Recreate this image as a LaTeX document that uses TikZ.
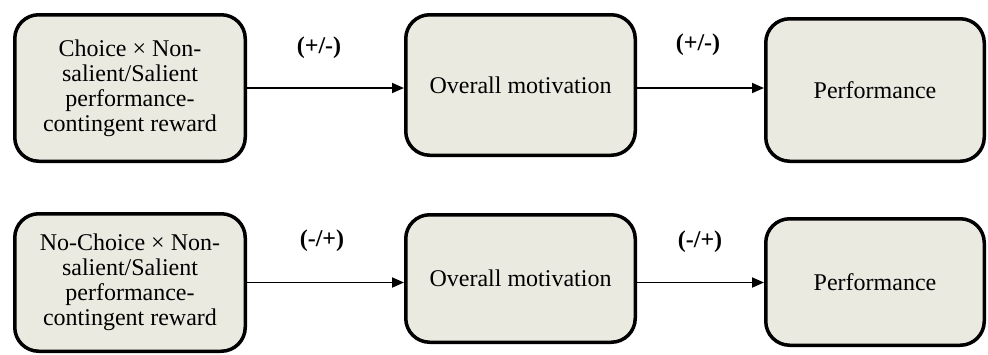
\documentclass[tikz,border=0pt]{standalone}
\usepackage{fontspec}
\setmainfont{Liberation Serif}
\usepackage{tikz}
\usetikzlibrary{arrows.meta}
\definecolor{boxfill}{RGB}{235,234,224}
\tikzstyle{box} = [draw, line width=3.5pt, rounded corners=24pt, fill=boxfill, align=center, inner sep=0pt, font=\fontsize{24}{25}\selectfont]
\tikzstyle{sign} = [font=\fontsize{24}{25}\selectfont\bfseries]
\tikzstyle{link} = [line width=1.8pt, -{Triangle[length=12pt,width=10pt]}]

\begin{document}
\begin{tikzpicture}[x=1pt,y=-1pt]
  \useasboundingbox (0,0) rectangle (988,354);
  % top row
  \node[box, minimum width=230.5pt, minimum height=146.5pt] (cause1) at (130,88)
    {Choice × Non-\\salient/Salient\\performance-\\contingent reward};
  \node[box, minimum width=229.5pt, minimum height=140.5pt] (mot1) at (520.5,85) {Overall motivation};
  \node[box, minimum width=218.5pt, minimum height=142.5pt] (perf1) at (875,90) {Performance};
  % bottom row
  \node[box, minimum width=230.5pt, minimum height=137.5pt] (cause2) at (130,282.5)
    {No-Choice × Non-\\salient/Salient\\performance-\\contingent reward};
  \node[box, minimum width=229.5pt, minimum height=127.5pt] (mot2) at (520.5,278.5) {Overall motivation};
  \node[box, minimum width=218.5pt, minimum height=126.5pt] (perf2) at (875,282) {Performance};
  % arrows
  \draw[link] (cause1.east) -- (mot1.west |- cause1);
  \draw[link] (mot1.east |- cause1) -- (perf1.west |- cause1);
  \draw[link] (cause2.east) -- (mot2.west |- cause2);
  \draw[link] (mot2.east |- cause2) -- (perf2.west |- cause2);
  % signs
  \node[sign] (s1) at (319,48) {(+/-)};
  \node[sign] (s2) at (698,45) {(+/-)};
  \node[sign] (s3) at (322,241) {(-/+)};
  \node[sign] (s4) at (700,242) {(-/+)};
\end{tikzpicture}
\end{document}
